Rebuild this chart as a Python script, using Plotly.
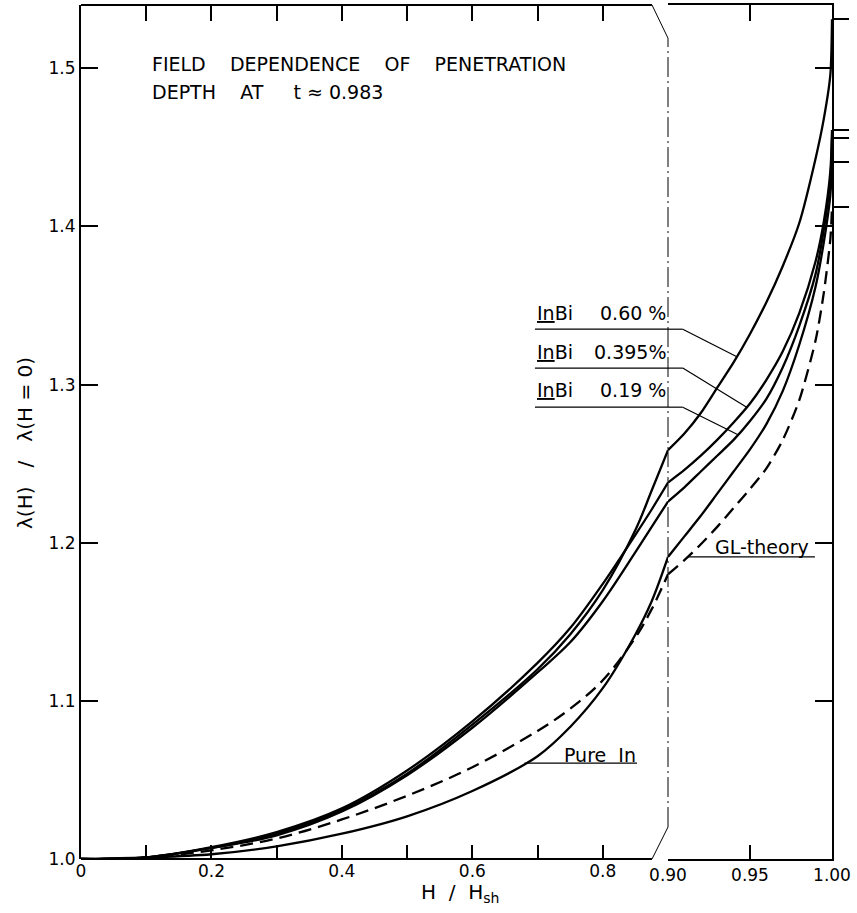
import numpy as np
import plotly.graph_objects as go

# ---------------- data ----------------
h_left = [0, 0.1, 0.2, 0.3, 0.4, 0.5, 0.6, 0.7, 0.75, 0.8, 0.85, 0.875, 0.9]
h_right = [0.9, 0.91, 0.92, 0.93, 0.94, 0.95, 0.96, 0.97, 0.98, 0.99, 0.995, 0.999, 1.0]

inbi060_left = [1.000, 1.001, 1.007, 1.016, 1.031, 1.054, 1.085, 1.120, 1.142, 1.170, 1.208, 1.233, 1.2585]
inbi060_right = [1.2585, 1.269, 1.282, 1.298, 1.314, 1.332, 1.352, 1.375, 1.402, 1.443, 1.468, 1.496, 1.531]

inbi0395_left = [1.000, 1.001, 1.0075, 1.017, 1.032, 1.056, 1.087, 1.124, 1.146, 1.174, 1.205, 1.221, 1.238]
inbi0395_right = [1.238, 1.246, 1.255, 1.265, 1.276, 1.288, 1.303, 1.321, 1.345, 1.378, 1.403, 1.435, 1.461]

inbi019_left = [1.000, 1.001, 1.007, 1.015, 1.030, 1.053, 1.083, 1.118, 1.137, 1.163, 1.194, 1.210, 1.226]
inbi019_right = [1.226, 1.235, 1.245, 1.255, 1.265, 1.277, 1.291, 1.311, 1.337, 1.370, 1.398, 1.430, 1.456]

pure_in_left = [1.000, 1.001, 1.003, 1.008, 1.016, 1.027, 1.043, 1.065, 1.0835, 1.108, 1.142, 1.163, 1.191]
pure_in_right = [1.191, 1.204, 1.217, 1.231, 1.245, 1.259, 1.275, 1.296, 1.325, 1.362, 1.390, 1.420, 1.441]

gl_left = [1.000, 1.001, 1.0055, 1.013, 1.025, 1.040, 1.058, 1.081, 1.095, 1.113, 1.140, 1.158, 1.180]
gl_right = [1.180, 1.189, 1.199, 1.210, 1.222, 1.234, 1.247, 1.265, 1.290, 1.328, 1.358, 1.392, 1.412]

x_ticks_left = [0, 0.2, 0.4, 0.6, 0.8]
x_minor_left = [0.1, 0.3, 0.5, 0.7]
x_top_left = [0.1, 0.2, 0.3, 0.4, 0.5, 0.6, 0.7, 0.8]
x_ticks_right = [0.90, 0.95, 1.00]
x_ticktext_right = ["0.90", "0.95", "1.00"]
x_top_right = [0.90, 0.95]
y_ticks = [1.0, 1.1, 1.2, 1.3, 1.4, 1.5]
y_ticks_right = [1.1, 1.2, 1.3, 1.4, 1.5]

# ---------------- layout geometry ----------------
W, H = 857, 913
ML, MR, MT, MB = 81, 25, 5, 54
PW = W - ML - MR
PH = H - MT - MB
DOM = (668 - ML) / PW          # end of the 0..0.9 section
Y0, Y1 = 1.0, 1.54
BREAK_START = 0.8755           # where the left frame lines stop

FONT = "DejaVu Sans"
BLACK = "black"


def px_left(h):
    return DOM * h / 0.9


def py(v):
    return (v - Y0) / (Y1 - Y0)


fig = go.Figure()

series = [
    (inbi060_left, inbi060_right, "solid"),
    (inbi0395_left, inbi0395_right, "solid"),
    (inbi019_left, inbi019_right, "solid"),
    (pure_in_left, pure_in_right, "solid"),
    (gl_left, gl_right, "13px,7px"),
]
for left, right, dash in series:
    fig.add_trace(go.Scatter(x=h_left, y=left, xaxis="x", yaxis="y", mode="lines",
                             line=dict(color=BLACK, width=2.3, dash=dash, shape="spline", smoothing=1.0),
                             showlegend=False, hoverinfo="skip"))
    fig.add_trace(go.Scatter(x=h_right, y=right, xaxis="x2", yaxis="y", mode="lines",
                             line=dict(color=BLACK, width=2.3, dash=dash, shape="spline", smoothing=0.7),
                             showlegend=False, hoverinfo="skip"))

# helper traces so the extra tick axes are drawn
for xa, ya in [("x3", "y"), ("x4", "y"), ("x2", "y2"), ("x2", "y3")]:
    fig.add_trace(go.Scatter(x=[None], y=[None], xaxis=xa, yaxis=ya, mode="lines",
                             showlegend=False, hoverinfo="skip"))

tick_common = dict(showgrid=False, zeroline=False, tickcolor=BLACK, tickwidth=1.6, automargin=False,
                   tickfont=dict(family=FONT, size=17, color=BLACK), fixedrange=True)

end_values = [inbi060_right[-1], inbi0395_right[-1], inbi019_right[-1],
              pure_in_right[-1], gl_right[-1]]

fig.update_layout(
    width=W, height=H,
    margin=dict(l=ML, r=MR, t=MT, b=MB, autoexpand=False),
    paper_bgcolor="white", plot_bgcolor="white",
    xaxis=dict(domain=[0, DOM], range=[0, 0.9], anchor="y", showline=False,
               ticks="inside", ticklen=14, tickvals=x_ticks_left,
               minor=dict(tickvals=x_minor_left, ticks="inside", ticklen=14,
                          tickcolor=BLACK, tickwidth=1.6),
               **tick_common),
    xaxis2=dict(domain=[DOM, 1], range=[0.9, 1.0], anchor="y", showline=True,
                linecolor=BLACK, linewidth=2, ticks="inside", ticklen=14,
                tickvals=x_ticks_right, ticktext=x_ticktext_right, **tick_common),
    xaxis3=dict(overlaying="x", side="top", anchor="y", range=[0, 0.9], showline=False,
                ticks="inside", ticklen=16, tickvals=x_top_left, showticklabels=False,
                **tick_common),
    xaxis4=dict(overlaying="x2", side="top", anchor="y", range=[0.9, 1.0], showline=True,
                linecolor=BLACK, linewidth=2, ticks="inside", ticklen=16,
                tickvals=x_top_right, showticklabels=False, **tick_common),
    yaxis=dict(domain=[0, 1], range=[Y0, Y1], anchor="x", side="left", showline=True,
               linecolor=BLACK, linewidth=2, ticks="inside", ticklen=17,
               tickvals=y_ticks, tickformat=".1f", **tick_common),
    yaxis2=dict(overlaying="y", anchor="x2", side="right", range=[Y0, Y1], showline=True,
                linecolor=BLACK, linewidth=2, ticks="inside", ticklen=17,
                tickvals=y_ticks_right, showticklabels=False, **tick_common),
    yaxis3=dict(overlaying="y", anchor="x2", side="right", range=[Y0, Y1], showline=False,
                ticks="outside", ticklen=16, tickvals=end_values, showticklabels=False,
                **tick_common),
)

shapes = []
# frame of the left section and the axis break
shapes.append(dict(type="line", xref="paper", yref="paper", x0=0, y0=0, x1=px_left(BREAK_START), y1=0,
                   line=dict(color=BLACK, width=2)))
shapes.append(dict(type="line", xref="paper", yref="paper", x0=0, y0=1, x1=px_left(BREAK_START), y1=1,
                   line=dict(color=BLACK, width=2)))
shapes.append(dict(type="line", xref="paper", yref="paper", x0=px_left(BREAK_START), y0=1,
                   x1=DOM, y1=py(1.519), line=dict(color=BLACK, width=1)))
shapes.append(dict(type="line", xref="paper", yref="paper", x0=px_left(BREAK_START), y0=0,
                   x1=DOM, y1=py(1.0202), line=dict(color=BLACK, width=1)))
shapes.append(dict(type="line", xref="paper", yref="paper", x0=DOM, y0=py(1.0202), x1=DOM, y1=py(1.519),
                   line=dict(color=BLACK, width=1, dash="20px,4px,2px,4px")))

# leader lines for the alloy labels
LEAD = dict(color=BLACK, width=1.2)
label_specs = [
    (inbi060_right, 1.3350, 0.942),
    (inbi0395_right, 1.3104, 0.948),
    (inbi019_right, 1.2857, 0.9427),
]
for right, yl, xend in label_specs:
    shapes.append(dict(type="line", xref="x", yref="y", x0=0.696, y0=yl, x1=0.9, y1=yl, line=LEAD))
    shapes.append(dict(type="line", xref="x2", yref="y", x0=0.9, y0=yl, x1=0.909, y1=yl, line=LEAD))
    shapes.append(dict(type="line", xref="x2", yref="y", x0=0.909, y0=yl, x1=xend,
                       y1=float(np.interp(xend, h_right, right)), line=LEAD))

gl_y = float(np.interp(0.912, h_right, gl_right))
shapes.append(dict(type="line", xref="x2", yref="y", x0=0.912, y0=gl_y, x1=0.9896, y1=gl_y, line=LEAD))
pure_y = float(np.interp(0.680, h_left, pure_in_left))
shapes.append(dict(type="line", xref="x", yref="y", x0=0.680, y0=pure_y, x1=0.8525, y1=pure_y, line=LEAD))

fig.update_layout(shapes=shapes)

NB = "\u00a0"
ann = []


def add_text(text, x, y, xref="paper", yref="paper", xanchor="left", size=18, angle=0):
    ann.append(dict(text=text, x=x, y=y, xref=xref, yref=yref, xanchor=xanchor, yanchor="middle",
                    showarrow=False, textangle=angle,
                    font=dict(family=FONT, size=size, color=BLACK)))


add_text(f"FIELD{NB}{NB}{NB}{NB}DEPENDENCE{NB}{NB}{NB}{NB}OF{NB}{NB}{NB}{NB}PENETRATION",
         (150 - ML) / PW, (859 - 64) / PH, size=19)
add_text(f"DEPTH{NB}{NB}{NB}{NB}AT{NB}{NB}{NB}{NB}{NB}t{NB}≈{NB}0.983", (150 - ML) / PW, (859 - 92) / PH, size=19)

# alloy labels
for ytxt, conc in [(1.3455, f"0.60{NB}%"), (1.3205, "0.395%"), (1.2965, f"0.19{NB}%")]:
    add_text("<u>In</u>Bi", 0.696, ytxt, xref="x", yref="y", xanchor="left", size=19)
    add_text(conc, 0.9, ytxt, xref="x", yref="y", xanchor="right", size=19)

add_text("GL-theory", 0.9573, 1.197, xref="x2", yref="y", xanchor="center", size=19)
add_text(f"Pure{NB}{NB}In", 0.795, 1.0657, xref="x", yref="y", xanchor="center", size=19)

# axis titles
add_text(f"H{NB}{NB}/{NB}{NB}H<sub>sh</sub>", (460 - ML) / PW, (859 - 893) / PH, xanchor="center", size=20)
add_text(f"λ(H){NB}{NB}{NB}/{NB}{NB}{NB}λ(H{NB}={NB}0)", (25 - ML) / PW, (859 - 443) / PH,
         xanchor="center", size=20, angle=-90)

fig.update_layout(annotations=ann)

fig.write_html("out.html", config={"displayModeBar": False},
               post_script="document.body.style.margin='0px';")
